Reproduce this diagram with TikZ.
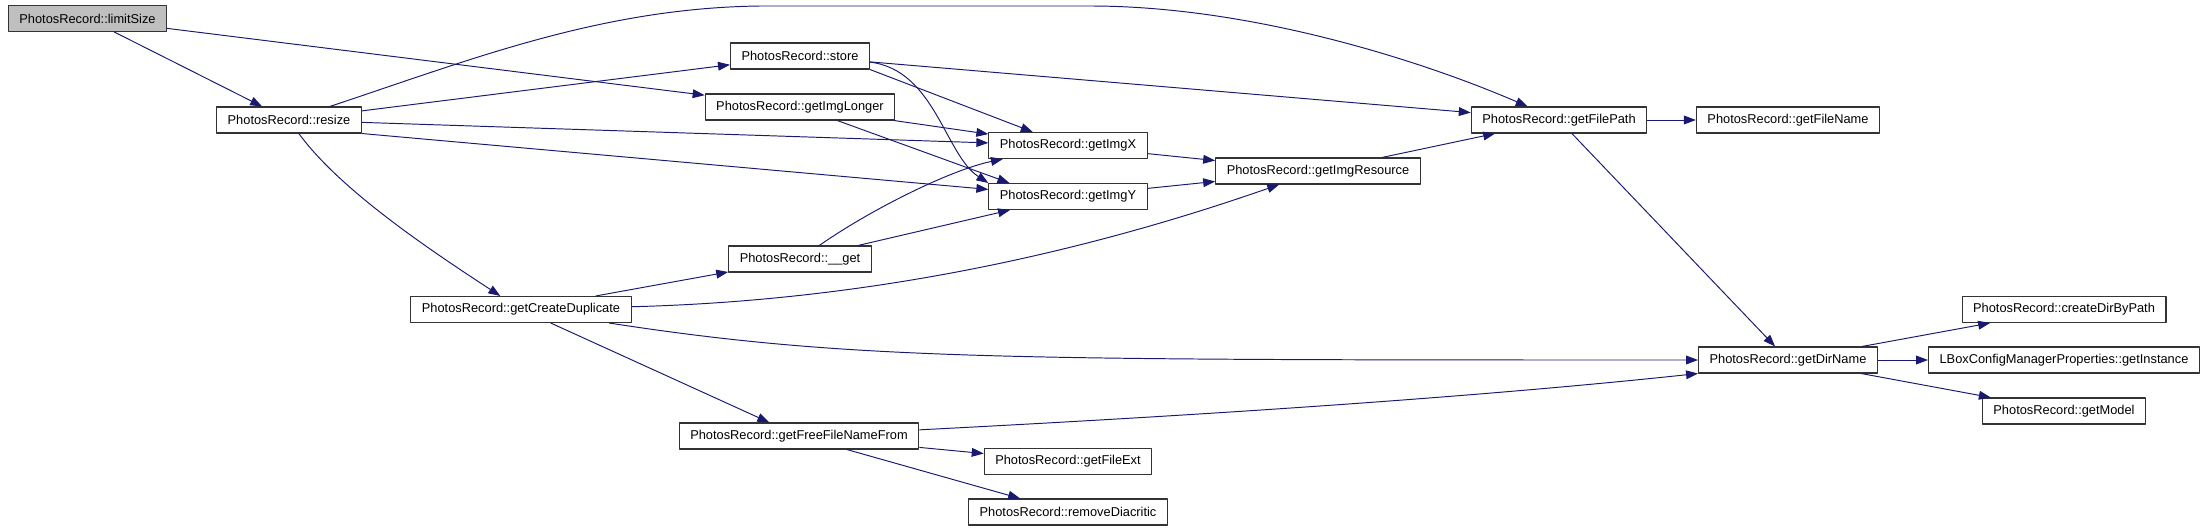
\documentclass[tikz,border=0pt]{standalone}
\usepackage{fontspec}
\setmainfont{Liberation Sans}
\usetikzlibrary{arrows.meta}
\definecolor{edgeblue}{HTML}{191970}
\definecolor{rootgray}{HTML}{BFBFBF}
\begin{document}
\begin{tikzpicture}[x=0.02cm,y=-0.02cm,line join=round,
  fn/.style={draw=black!80,line width=0.6pt,fill=white,font=\fontsize{7.3}{8}\selectfont,inner xsep=6.3pt,inner ysep=1pt,minimum height=0.52cm},
  call/.style={draw=edgeblue,line width=0.55pt,-{Triangle[length=6.8pt,width=5pt]}}]
  \useasboundingbox (0,0) rectangle (2205,531);
  \node[fn,fill=rootgray] (limitSize) at (87.5,18.5) {PhotosRecord::limitSize};
  \node[fn] (resize) at (289,120) {PhotosRecord::resize};
  \node[fn] (store) at (800,56) {PhotosRecord::store};
  \node[fn] (getImgLonger) at (800,107) {PhotosRecord::getImgLonger};
  \node[fn] (getImgX) at (1068,145.5) {PhotosRecord::getImgX};
  \node[fn] (getImgY) at (1068,196.5) {PhotosRecord::getImgY};
  \node[fn] (getImgResource) at (1318,171) {PhotosRecord::getImgResource};
  \node[fn] (getFilePath) at (1559,120) {PhotosRecord::getFilePath};
  \node[fn] (getFileName) at (1788,120) {PhotosRecord::getFileName};
  \node[fn] (get) at (800,259) {PhotosRecord::\_\_get};
  \node[fn] (getCreateDuplicate) at (521,309.5) {PhotosRecord::getCreateDuplicate};
  \node[fn] (getDirName) at (1788,360) {PhotosRecord::getDirName};
  \node[fn] (createDirByPath) at (2064,309.5) {PhotosRecord::createDirByPath};
  \node[fn] (getInstance) at (2064,360) {LBoxConfigManagerProperties::getInstance};
  \node[fn] (getModel) at (2064,411) {PhotosRecord::getModel};
  \node[fn] (getFreeFileNameFrom) at (799,436) {PhotosRecord::getFreeFileNameFrom};
  \node[fn] (getFileExt) at (1068,461.5) {PhotosRecord::getFileExt};
  \node[fn] (removeDiacritic) at (1068,512) {PhotosRecord::removeDiacritic};
  \draw[call] (limitSize) -- (resize);
  \draw[call] (limitSize) -- (getImgLonger);
  \draw[call] (resize) .. controls (470,60) and (600,8) .. (760,6) -- (1090,6) .. controls (1250,6) and (1420,60) .. (getFilePath);
  \draw[call] (resize) -- (store);
  \draw[call] (resize) -- (getImgX);
  \draw[call] (resize.south east) -- (getImgY);
  \draw[call] (resize) .. controls (340,190) and (430,250) .. (getCreateDuplicate);
  \draw[call] (store) -- (getFilePath);
  \draw[call] (store.south east) -- (getImgX);
  \draw[call] (store.-5) .. controls (935,70) and (945,155) .. (getImgY.north west);
  \draw[call] (getImgLonger) -- (getImgX);
  \draw[call] (getImgLonger) -- (getImgY.167.5);
  \draw[call] (getImgX) -- (getImgResource);
  \draw[call] (getImgY) -- (getImgResource);
  \draw[call] (getImgResource) -- (getFilePath);
  \draw[call] (getFilePath) -- (getFileName);
  \draw[call] (getFilePath) -- (getDirName);
  \draw[call] (get) .. controls (870,210) and (950,170) .. (getImgX);
  \draw[call] (get) -- (getImgY);
  \draw[call] (getCreateDuplicate) -- (get);
  \draw[call] (getCreateDuplicate) .. controls (900,300) and (1120,240) .. (getImgResource);
  \draw[call] (getCreateDuplicate) .. controls (850,360) and (1000,360) .. (getDirName);
  \draw[call] (getCreateDuplicate) -- (getFreeFileNameFrom);
  \draw[call] (getFreeFileNameFrom) .. controls (1150,418) and (1450,400) .. (getDirName.south west);
  \draw[call] (getFreeFileNameFrom) -- (getFileExt);
  \draw[call] (getFreeFileNameFrom) -- (removeDiacritic);
  \draw[call] (getDirName) -- (createDirByPath);
  \draw[call] (getDirName) -- (getInstance);
  \draw[call] (getDirName) -- (getModel);
\end{tikzpicture}
\end{document}
